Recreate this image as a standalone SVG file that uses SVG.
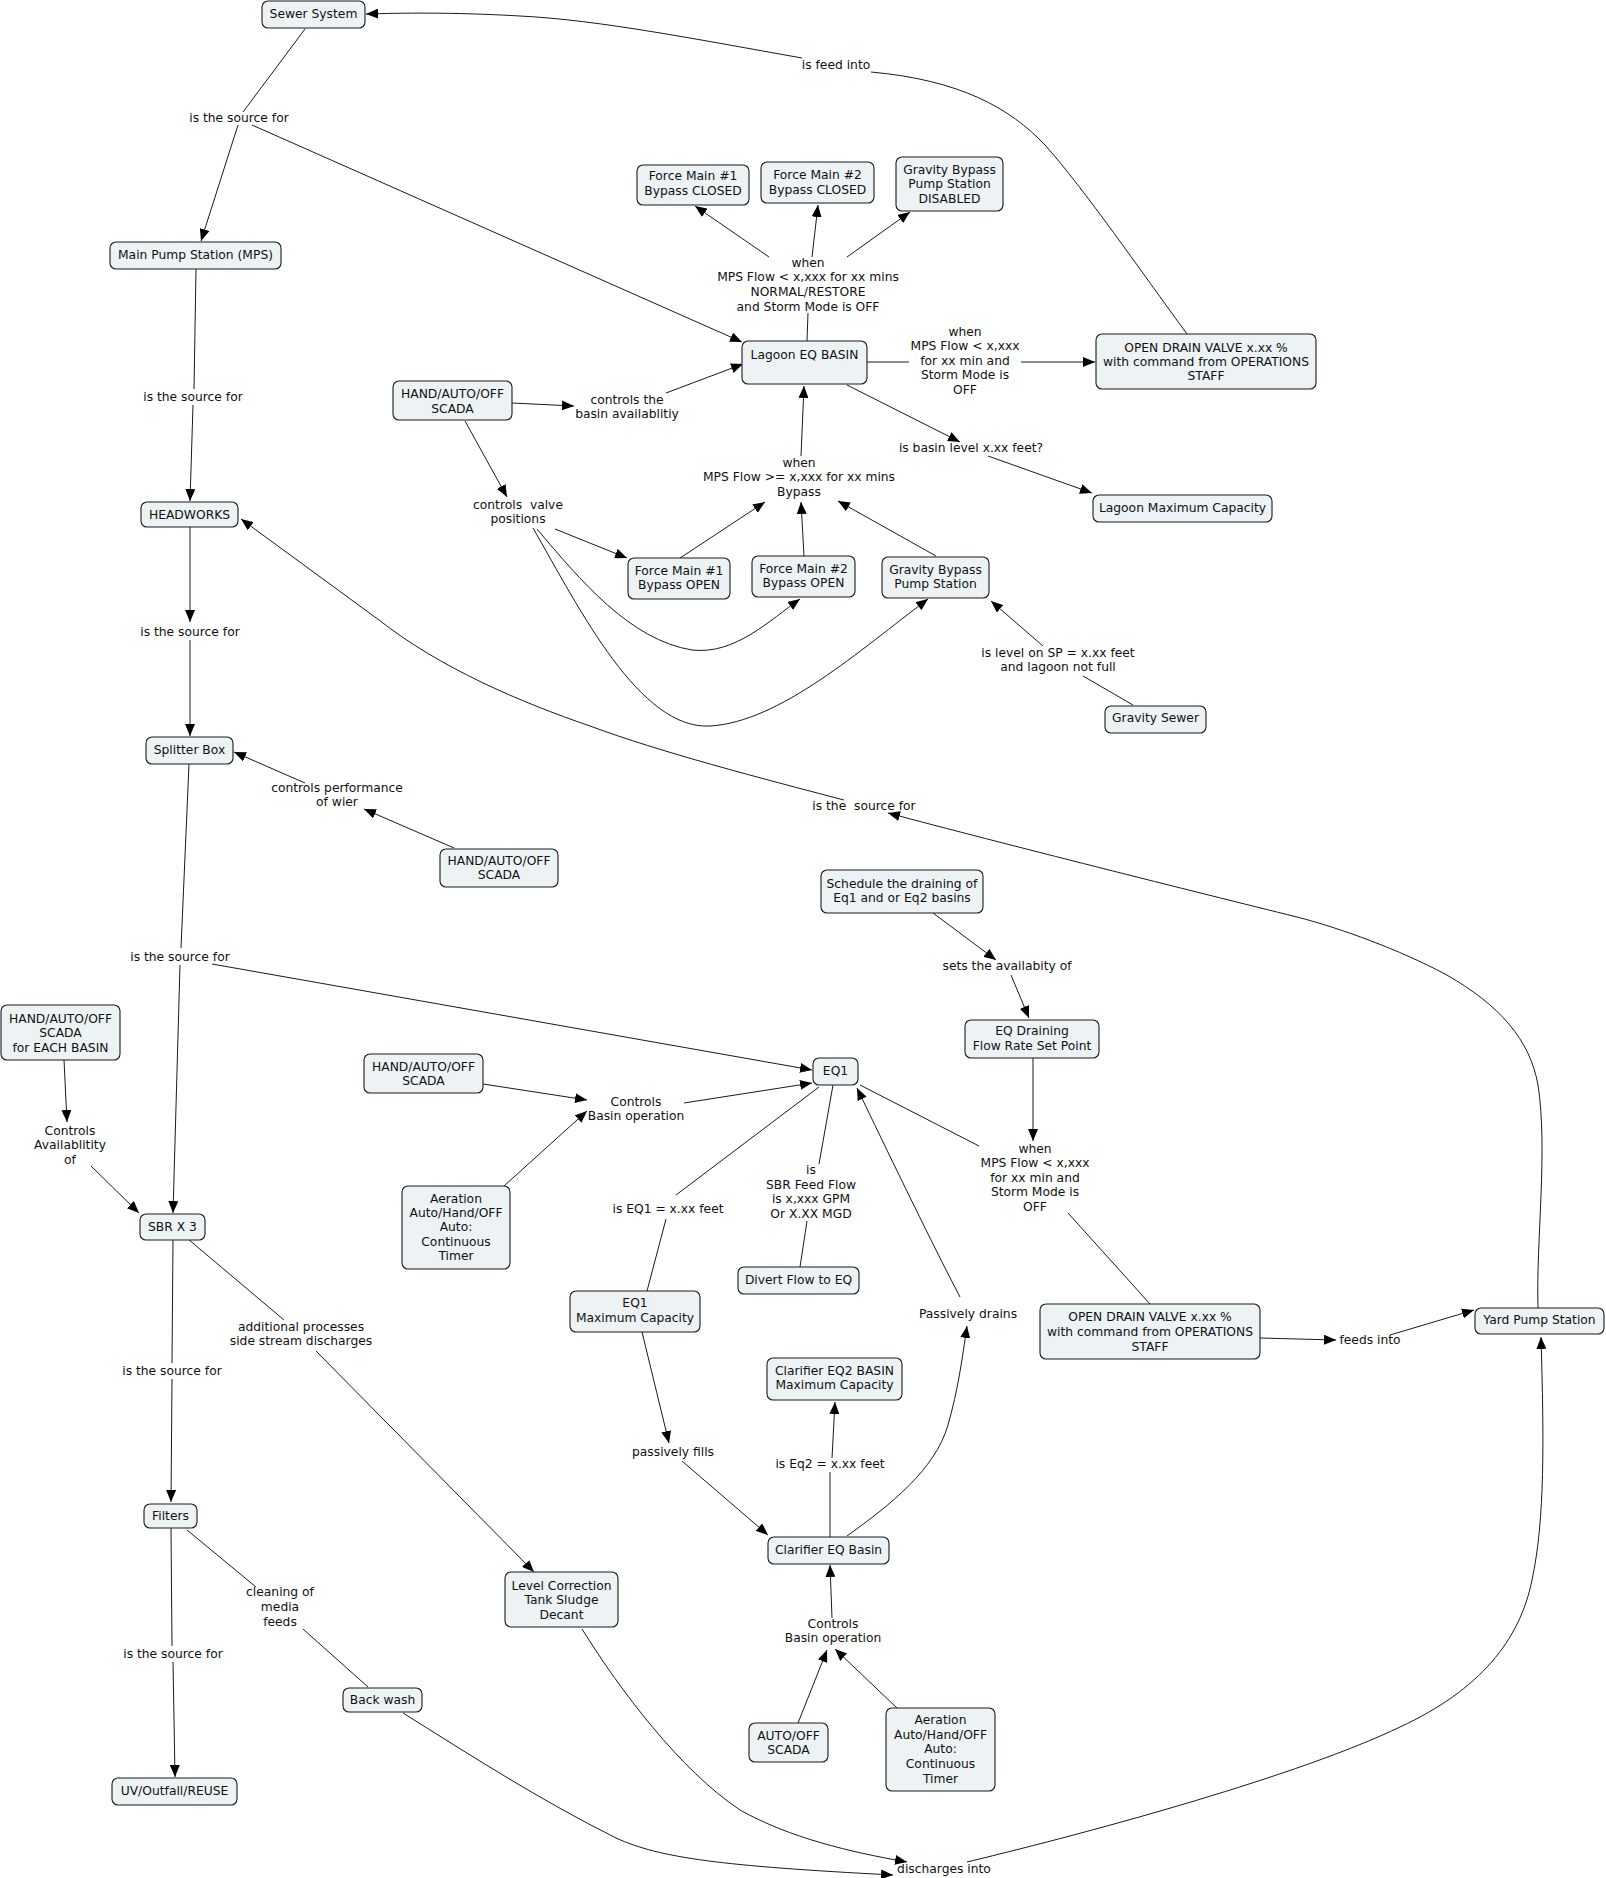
<svg xmlns="http://www.w3.org/2000/svg" width="1606" height="1878" viewBox="0 0 1606 1878">
<defs>
<style>
.n rect{fill:#EDF3F5;stroke:#1a1a1a;stroke-width:1.1}
text{font-family:"DejaVu Sans",Verdana,"Liberation Sans",sans-serif;font-size:12.3px;fill:#111;text-anchor:middle}
.c path{stroke:#1a1a1a;stroke-width:1;fill:none}
.c .a{marker-end:url(#ah)}
.pre{white-space:pre}
</style>
<marker id="ah" viewBox="0 0 12 10" refX="12" refY="5" markerWidth="12" markerHeight="10" markerUnits="userSpaceOnUse" orient="auto"><path d="M0,0 L12,5 L0,10 z" fill="#000"/></marker>
</defs>
<rect width="1606" height="1878" fill="#fff"/>

<g id="connectors" class="c">
<path d="M305,29 L243,112"/>
<path class="a" d="M238,125 L201,241"/>
<path class="a" d="M252,125 L742,342"/>
<path d="M196,269 L194,389"/>
<path class="a" d="M193,405 L190,501"/>
<path class="a" d="M190,527 L190,622"/>
<path class="a" d="M190,640 L190,736"/>
<path d="M189,764 L181,948"/>
<path class="a" d="M180,965 L173,1213"/>
<path class="a" d="M212,964 L812,1070"/>
<path class="a" d="M844,800 C760,778 660,752 590,726 C520,702 440,668 379,620 L241,519"/>
<path class="a" d="M1538,1308 C1536,1240 1548,1150 1538,1085 C1530,1040 1500,1005 1445,974 C1400,950 1340,928 1297,917 C1200,893 1000,843 888,813"/>
<path class="a" d="M454,848 L364,809"/>
<path class="a" d="M305,783 L234,752"/>
<path class="a" d="M512,403 L574,406"/>
<path class="a" d="M666,393 L743,364"/>
<path class="a" d="M465,421 L507,497"/>
<path class="a" d="M555,529 L627,558"/>
<path class="a" d="M537,529 C580,580 630,640 692,650 C735,655 770,620 800,599"/>
<path class="a" d="M533,528 C580,610 640,730 710,726 C780,722 860,650 928,599"/>
<path class="a" d="M680,558 L765,502"/>
<path class="a" d="M804,556 L801,502"/>
<path class="a" d="M936,556 L838,501"/>
<path class="a" d="M801,456 L804,386"/>
<path d="M807,341 L808,313"/>
<path class="a" d="M769,257 L695,206"/>
<path class="a" d="M812,257 L818,205"/>
<path class="a" d="M847,257 L910,212"/>
<path d="M867,362 L909,362"/>
<path class="a" d="M1021,362 L1095,362"/>
<path class="a" d="M847,385 L960,442"/>
<path class="a" d="M988,456 L1092,493"/>
<path d="M1187,334 C1140,270 1085,190 1045,145 C1010,108 960,80 871,72"/>
<path class="a" d="M802,58 C700,40 600,20 520,16 C450,12 400,13 366,14"/>
<path d="M1133,705 L1083,676"/>
<path class="a" d="M1043,646 L991,601"/>
<path class="a" d="M933,913 L996,960"/>
<path class="a" d="M1011,975 L1029,1018"/>
<path class="a" d="M1033,1058 L1033,1141"/>
<path d="M860,1085 L979,1146"/>
<path d="M1068,1213 L1150,1304"/>
<path class="a" d="M1260,1338 L1336,1340"/>
<path class="a" d="M1390,1335 L1474,1310"/>
<path class="a" d="M483,1084 L587,1100"/>
<path class="a" d="M504,1186 L587,1111"/>
<path class="a" d="M684,1103 L812,1083"/>
<path d="M833,1085 L819,1164"/>
<path d="M807,1221 L800,1267"/>
<path d="M819,1087 L676,1195"/>
<path d="M666,1219 L647,1291"/>
<path class="a" d="M642,1332 L669,1443"/>
<path class="a" d="M682,1461 L768,1535"/>
<path d="M830,1537 L830,1472"/>
<path class="a" d="M832,1458 L835,1402"/>
<path class="a" d="M847,1536 C890,1505 935,1470 948,1425 C958,1390 962,1360 967,1326"/>
<path class="a" d="M960,1297 Q930,1240 857,1088"/>
<path class="a" d="M798,1723 L827,1650"/>
<path class="a" d="M897,1708 L835,1649"/>
<path class="a" d="M832,1618 L830,1565"/>
<path class="a" d="M64,1060 L67,1122"/>
<path class="a" d="M91,1166 L139,1213"/>
<path d="M173,1240 L172,1363"/>
<path class="a" d="M172,1379 L171,1502"/>
<path d="M188,1239 L284,1320"/>
<path class="a" d="M316,1351 L534,1572"/>
<path d="M187,1530 L256,1587"/>
<path d="M303,1629 L368,1687"/>
<path d="M171,1528 L172,1646"/>
<path class="a" d="M173,1662 L175,1777"/>
<path class="a" d="M582,1629 C620,1690 680,1770 740,1810 C790,1838 850,1852 907,1862"/>
<path class="a" d="M403,1713 C470,1755 540,1800 616,1838 C660,1858 720,1866 893,1875"/>
<path class="a" d="M967,1862 C1100,1830 1300,1775 1400,1727 C1480,1690 1520,1640 1532,1580 C1545,1520 1544,1440 1541,1337"/>
</g>

<g id="labels">
<text x="239" y="122">is the source for</text>
<text x="193" y="401">is the source for</text>
<text x="190" y="636">is the source for</text>
<text x="180" y="961">is the source for</text>
<text x="172" y="1375">is the source for</text>
<text x="173" y="1658">is the source for</text>
<text x="836" y="69">is feed into</text>
<text x="808" y="267">when</text><text x="808" y="281">MPS Flow &lt; x,xxx for xx mins</text><text x="808" y="296">NORMAL/RESTORE</text><text x="808" y="311">and Storm Mode is OFF</text>
<text x="965" y="336">when</text><text x="965" y="350">MPS Flow &lt; x,xxx</text><text x="965" y="365">for xx min and</text><text x="965" y="379">Storm Mode is</text><text x="965" y="394">OFF</text>
<text x="627" y="404">controls the</text><text x="627" y="418">basin availablitiy</text>
<text x="971" y="452">is basin level x.xx feet?</text>
<text x="799" y="467">when</text><text x="799" y="481">MPS Flow &gt;= x,xxx for xx mins</text><text x="799" y="496">Bypass</text>
<text class="pre" x="518" y="509">controls  valve</text><text x="518" y="523">positions</text>
<text x="1058" y="657">is level on SP = x.xx feet</text><text x="1058" y="671">and lagoon not full</text>
<text x="337" y="792">controls performance</text><text x="337" y="806">of wier</text>
<text class="pre" x="864" y="810">is the  source for</text>
<text x="1007" y="970">sets the availabity of</text>
<text x="636" y="1106">Controls</text><text x="636" y="1120">Basin operation</text>
<text x="1035" y="1153">when</text><text x="1035" y="1167">MPS Flow &lt; x,xxx</text><text x="1035" y="1182">for xx min and</text><text x="1035" y="1196">Storm Mode is</text><text x="1035" y="1211">OFF</text>
<text x="811" y="1174">is</text><text x="811" y="1189">SBR Feed Flow</text><text x="811" y="1203">is x,xxx GPM</text><text x="811" y="1218">Or X.XX MGD</text>
<text x="668" y="1213">is EQ1 = x.xx feet</text>
<text x="70" y="1135">Controls</text><text x="70" y="1149">Availablitity</text><text x="70" y="1164">of</text>
<text x="301" y="1331">additional processes</text><text x="301" y="1345">side stream discharges</text>
<text x="968" y="1318">Passively drains</text>
<text x="1370" y="1344">feeds into</text>
<text x="673" y="1456">passively fills</text>
<text x="830" y="1468">is Eq2 = x.xx feet</text>
<text x="280" y="1596">cleaning of</text><text x="280" y="1611">media</text><text x="280" y="1626">feeds</text>
<text x="833" y="1628">Controls</text><text x="833" y="1642">Basin operation</text>
<text x="944" y="1873">discharges into</text>
</g>

<g id="n-sewer" class="n"><rect x="262" y="1" width="103" height="27" rx="6"/><text x="313.5" y="18">Sewer System</text></g>
<g id="n-mps" class="n"><rect x="110" y="242" width="171" height="27" rx="6"/><text x="195.5" y="259">Main Pump Station (MPS)</text></g>
<g id="n-headworks" class="n"><rect x="141" y="502" width="97" height="25" rx="6"/><text x="189.5" y="519">HEADWORKS</text></g>
<g id="n-splitter" class="n"><rect x="146" y="737" width="87" height="27" rx="6"/><text x="189.5" y="754">Splitter Box</text></g>
<g id="n-sbr" class="n"><rect x="140" y="1214" width="65" height="26" rx="6"/><text x="172.5" y="1231">SBR X 3</text></g>
<g id="n-filters" class="n"><rect x="144" y="1504" width="53" height="24" rx="6"/><text x="170.5" y="1520">Filters</text></g>
<g id="n-uv" class="n"><rect x="112" y="1778" width="125" height="27" rx="6"/><text x="174.5" y="1795">UV/Outfall/REUSE</text></g>
<g id="n-hand1" class="n"><rect x="393" y="381" width="119" height="39" rx="6"/><text x="452.5" y="398">HAND/AUTO/OFF</text><text x="452.5" y="413">SCADA</text></g>
<g id="n-lagoon" class="n"><rect x="742" y="341" width="125" height="43" rx="6"/><text x="804.5" y="359">Lagoon EQ BASIN</text></g>
<g id="n-fm1c" class="n"><rect x="637" y="165" width="112" height="40" rx="6"/><text x="693" y="180">Force Main #1</text><text x="693" y="195">Bypass CLOSED</text></g>
<g id="n-fm2c" class="n"><rect x="761" y="162" width="113" height="41" rx="6"/><text x="817.5" y="179">Force Main #2</text><text x="817.5" y="194">Bypass CLOSED</text></g>
<g id="n-gbd" class="n"><rect x="896" y="157" width="107" height="54" rx="6"/><text x="949.5" y="174">Gravity Bypass</text><text x="949.5" y="188">Pump Station</text><text x="949.5" y="203">DISABLED</text></g>
<g id="n-odv1" class="n"><rect x="1096" y="334" width="220" height="55" rx="6"/><text x="1206" y="352">OPEN DRAIN VALVE x.xx %</text><text x="1206" y="366">with command from OPERATIONS</text><text x="1206" y="380">STAFF</text></g>
<g id="n-lagoonmax" class="n"><rect x="1093" y="495" width="179" height="27" rx="6"/><text x="1182.5" y="512">Lagoon Maximum Capacity</text></g>
<g id="n-fm1o" class="n"><rect x="628" y="558" width="102" height="41" rx="6"/><text x="679" y="575">Force Main #1</text><text x="679" y="589">Bypass OPEN</text></g>
<g id="n-fm2o" class="n"><rect x="752" y="556" width="103" height="41" rx="6"/><text x="803.5" y="573">Force Main #2</text><text x="803.5" y="587">Bypass OPEN</text></g>
<g id="n-gbps" class="n"><rect x="882" y="557" width="107" height="41" rx="6"/><text x="935.5" y="574">Gravity Bypass</text><text x="935.5" y="588">Pump Station</text></g>
<g id="n-gravsewer" class="n"><rect x="1105" y="706" width="101" height="27" rx="6"/><text x="1155.5" y="722">Gravity Sewer</text></g>
<g id="n-hand2" class="n"><rect x="440" y="849" width="118" height="38" rx="6"/><text x="499" y="865">HAND/AUTO/OFF</text><text x="499" y="879">SCADA</text></g>
<g id="n-schedule" class="n"><rect x="821" y="870" width="162" height="43" rx="6"/><text x="902" y="888">Schedule the draining of</text><text x="902" y="902">Eq1 and or Eq2 basins</text></g>
<g id="n-eqdrain" class="n"><rect x="965" y="1020" width="134" height="38" rx="6"/><text x="1032" y="1035">EQ Draining</text><text x="1032" y="1050">Flow Rate Set Point</text></g>
<g id="n-handeach" class="n"><rect x="1" y="1005" width="119" height="55" rx="6"/><text x="60.5" y="1023">HAND/AUTO/OFF</text><text x="60.5" y="1037">SCADA</text><text x="60.5" y="1052">for EACH BASIN</text></g>
<g id="n-hand3" class="n"><rect x="364" y="1054" width="119" height="39" rx="6"/><text x="423.5" y="1071">HAND/AUTO/OFF</text><text x="423.5" y="1085">SCADA</text></g>
<g id="n-eq1" class="n"><rect x="813" y="1058" width="45" height="27" rx="6"/><text x="835.5" y="1075">EQ1</text></g>
<g id="n-aer1" class="n"><rect x="402" y="1186" width="108" height="83" rx="6"/><text x="456" y="1203">Aeration</text><text x="456" y="1217">Auto/Hand/OFF</text><text x="456" y="1231">Auto:</text><text x="456" y="1246">Continuous</text><text x="456" y="1260">Timer</text></g>
<g id="n-divert" class="n"><rect x="738" y="1267" width="121" height="27" rx="6"/><text x="798.5" y="1284">Divert Flow to EQ</text></g>
<g id="n-eq1max" class="n"><rect x="570" y="1291" width="130" height="41" rx="6"/><text x="635" y="1307">EQ1</text><text x="635" y="1322">Maximum Capacity</text></g>
<g id="n-odv2" class="n"><rect x="1040" y="1304" width="220" height="55" rx="6"/><text x="1150" y="1321">OPEN DRAIN VALVE x.xx %</text><text x="1150" y="1336">with command from OPERATIONS</text><text x="1150" y="1351">STAFF</text></g>
<g id="n-yard" class="n"><rect x="1475" y="1308" width="129" height="26" rx="6"/><text x="1539.5" y="1324">Yard Pump Station</text></g>
<g id="n-eq2max" class="n"><rect x="767" y="1358" width="135" height="42" rx="6"/><text x="834.5" y="1375">Clarifier EQ2 BASIN</text><text x="834.5" y="1389">Maximum Capacity</text></g>
<g id="n-clarifier" class="n"><rect x="768" y="1537" width="121" height="27" rx="6"/><text x="828.5" y="1554">Clarifier EQ Basin</text></g>
<g id="n-levelcorr" class="n"><rect x="505" y="1572" width="113" height="55" rx="6"/><text x="561.5" y="1590">Level Correction</text><text x="561.5" y="1604">Tank Sludge</text><text x="561.5" y="1619">Decant</text></g>
<g id="n-backwash" class="n"><rect x="343" y="1688" width="79" height="24" rx="6"/><text x="382.5" y="1704">Back wash</text></g>
<g id="n-autooff" class="n"><rect x="749" y="1723" width="79" height="39" rx="6"/><text x="788.5" y="1740">AUTO/OFF</text><text x="788.5" y="1754">SCADA</text></g>
<g id="n-aer2" class="n"><rect x="886" y="1708" width="109" height="83" rx="6"/><text x="940.5" y="1724">Aeration</text><text x="940.5" y="1739">Auto/Hand/OFF</text><text x="940.5" y="1753">Auto:</text><text x="940.5" y="1768">Continuous</text><text x="940.5" y="1783">Timer</text></g>
</svg>
